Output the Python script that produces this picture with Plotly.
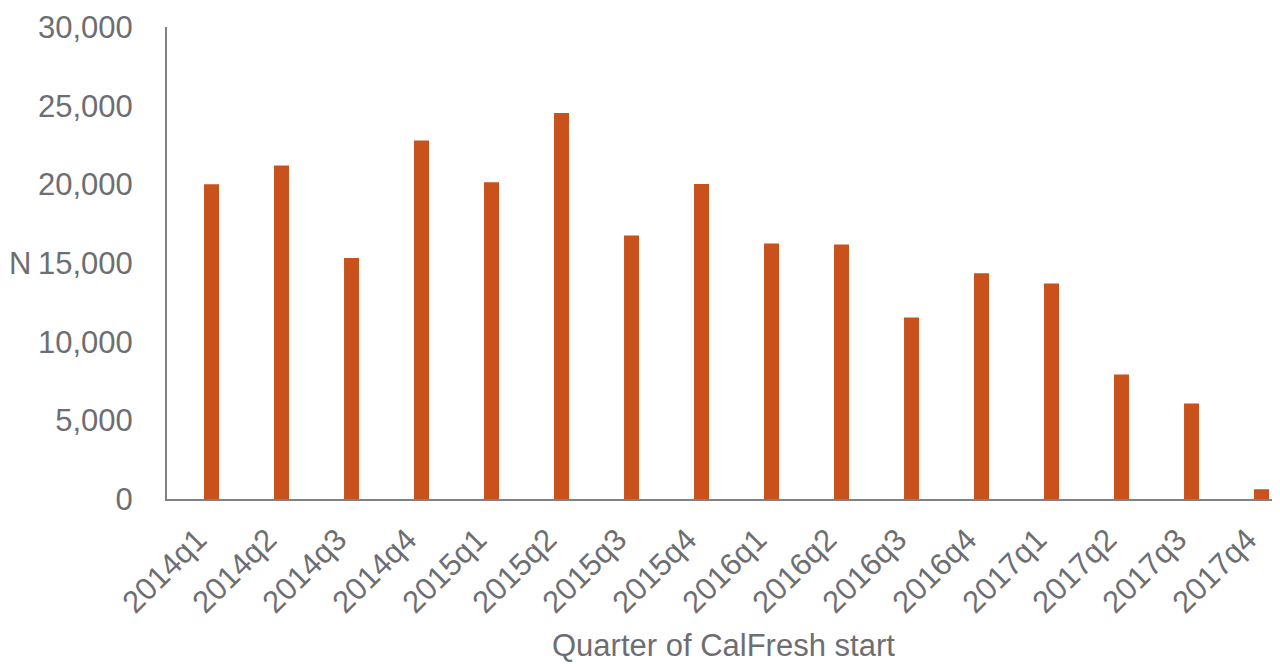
import plotly.graph_objects as go

quarters = ["2014q1", "2014q2", "2014q3", "2014q4",
            "2015q1", "2015q2", "2015q3", "2015q4",
            "2016q1", "2016q2", "2016q3", "2016q4",
            "2017q1", "2017q2", "2017q3", "2017q4"]
counts = [20000, 21200, 15310, 22790,
          20140, 24530, 16750, 20020,
          16240, 16180, 11540, 14350,
          13700, 7910, 6070, 620]
y_ticks = [0, 5000, 10000, 15000, 20000, 25000, 30000]

gray = "#6d6e72"
axis_gray = "#7f8186"
bar_color = "#C9511C"
font_family = "Liberation Sans, Arial, sans-serif"

fig = go.Figure(go.Bar(x=quarters, y=counts, marker_color=bar_color,
                       marker_line_width=0))

# page body has an 8px default margin; margins compensate for it
fig.update_layout(
    width=1280, height=664,
    margin=dict(l=159, r=8, t=19, b=173.3, autoexpand=False),
    paper_bgcolor="white", plot_bgcolor="white",
    bargap=0.786,
    showlegend=False,
    font=dict(family=font_family, size=31, color=gray),
)
fig.update_xaxes(
    type="category", range=[-0.636, 15.264], automargin=False,
    showline=True, linecolor=axis_gray, linewidth=2,
    showgrid=False, ticks="", tickangle=-45,
    ticklabelstandoff=8, ticklabelshift=-14,
    tickfont=dict(size=31, color=gray),
)
fig.update_yaxes(
    range=[0, 30000], tickvals=y_ticks, tickformat=",", automargin=False,
    showline=True, linecolor=axis_gray, linewidth=2,
    showgrid=False, zeroline=False, ticks="",
    ticklabelstandoff=26,
    tickfont=dict(size=31, color=gray),
)
fig.add_annotation(text="Quarter of CalFresh start", xref="paper", yref="paper",
                   x=0.5, y=0, xanchor="center", yanchor="middle", yshift=-146,
                   showarrow=False, font=dict(size=31, color=gray))
fig.add_annotation(text="N", xref="paper", yref="y",
                   x=0, y=15000, xanchor="center", yanchor="middle",
                   xshift=-147, showarrow=False, font=dict(size=31, color=gray))

fig.write_html("out.html")
